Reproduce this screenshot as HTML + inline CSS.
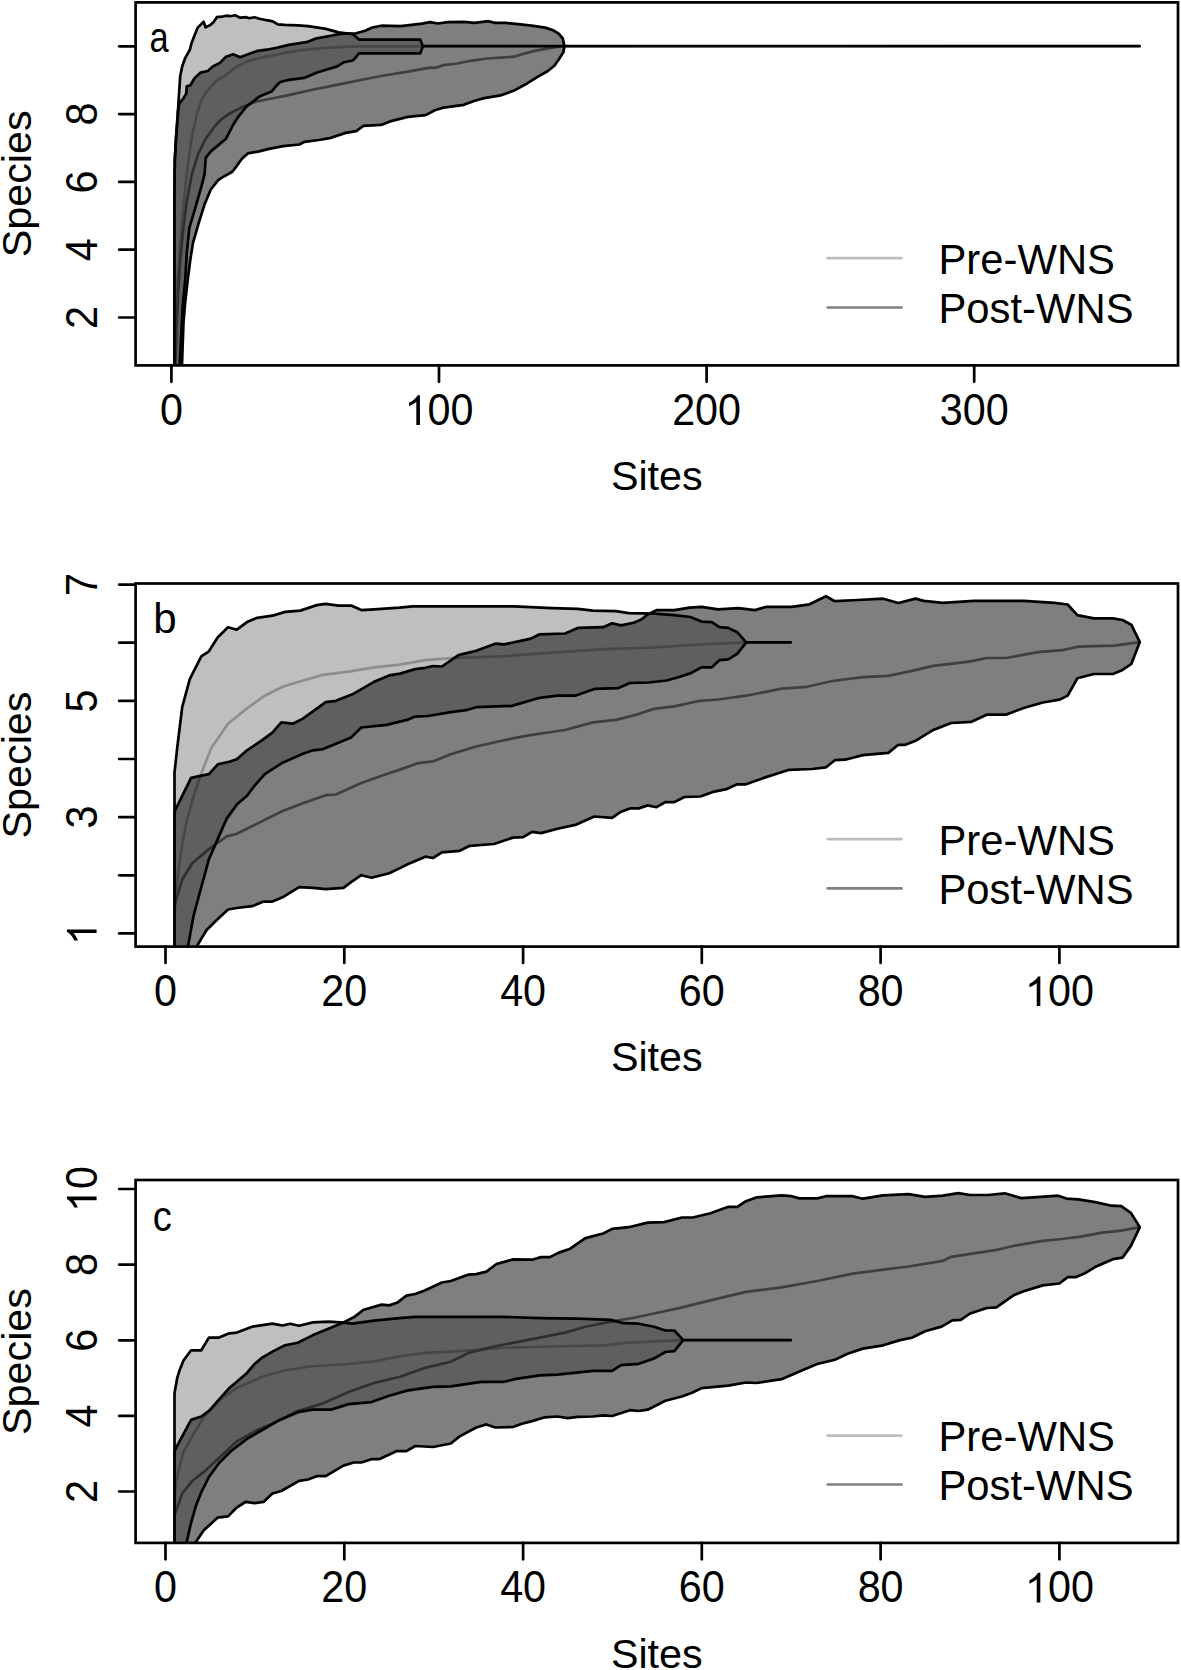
<!DOCTYPE html>
<html><head><meta charset="utf-8"><title>Species accumulation</title>
<style>
html,body{margin:0;padding:0;background:#fff;}
svg{display:block;}
text{font-family:"Liberation Sans",sans-serif;fill:#000;}
</style></head><body>
<svg width="1181" height="1670" viewBox="0 0 1181 1670">
<rect x="0" y="0" width="1181" height="1670" fill="#fff"/>

<clipPath id="clipa"><rect x="135.6" y="2.4" width="1042.4" height="363.0"/></clipPath>
<g clip-path="url(#clipa)" stroke-linejoin="round" stroke-linecap="round">
<polyline points="174.6,370.0 175.5,330.0 177.0,290.0 179.0,259.9 182.9,212.4 186.7,174.3 191.8,136.2 194.5,125.0 197.5,111.7 201.6,99.5 206.7,91.4 215.8,81.2 226.0,75.1 236.1,67.0 246.3,61.9 256.4,58.9 266.6,56.3 276.8,54.8 285.0,52.8 301.1,50.2 327.8,47.6 358.0,46.3 1139.7,46.2" fill="none" stroke="#bebebe" stroke-width="2.7"/>
<polyline points="175.2,370.0 176.5,330.0 178.0,295.0 180.3,259.9 182.9,232.7 186.7,202.2 191.8,174.3 198.1,154.0 205.7,138.7 215.8,125.0 221.9,118.8 231.0,112.7 241.2,107.6 256.4,101.5 266.6,99.5 276.8,97.5 285.0,95.9 310.0,90.2 336.7,84.9 354.5,81.3 381.1,76.0 407.8,71.6 430.0,67.6 435.4,67.9 443.5,65.1 457.1,63.5 470.6,60.8 486.9,58.5 500.5,57.7 514.0,56.7 524.8,53.4 535.7,50.6 546.5,48.6 557.4,46.9 564.4,46.2" fill="none" stroke="#7f7f7f" stroke-width="2.7"/>
<polygon points="174.4,370.0 174.4,200.0 174.8,160.0 176.2,135.0 177.8,118.0 178.2,106.6 179.2,91.4 180.2,76.1 182.3,66.0 185.3,57.8 189.9,49.7 191.4,43.6 194.5,35.5 197.5,27.9 203.6,21.8 205.6,27.4 210.7,24.8 213.8,21.8 216.8,17.2 221.9,16.7 226.0,15.7 230.0,16.2 235.1,15.2 240.2,17.7 246.3,17.2 249.3,18.2 254.4,17.2 259.5,18.7 266.6,20.2 272.7,21.3 277.8,24.3 285.0,24.8 297.8,25.4 308.2,26.2 326.0,28.9 338.5,32.4 352.7,34.2 354.5,35.6 358.9,39.6 420.3,39.6 422.8,46.2 1139.7,46.2 422.8,46.2 420.3,53.4 358.9,53.4 354.5,58.8 352.7,60.5 343.8,62.3 336.7,66.6 326.0,69.8 317.1,72.5 304.7,77.8 290.5,79.6 285.0,80.7 279.8,82.2 276.8,85.3 271.7,91.4 266.6,93.4 259.5,96.4 254.4,100.5 246.3,106.6 238.2,116.8 233.1,125.0 228.6,133.7 226.0,138.7 210.8,151.4 205.7,157.8 204.6,174.0 201.3,186.9 194.5,210.6 189.4,227.6 186.9,251.3 185.2,280.1 182.7,305.5 181.0,339.3 179.3,370.0" fill="rgba(0,0,0,0.25)" stroke="#000" stroke-width="2.7"/>
<polygon points="174.4,370.0 174.4,200.0 174.8,160.0 176.2,135.0 177.8,112.0 179.2,103.6 183.3,98.5 186.3,93.4 186.8,86.3 190.4,85.3 194.5,78.2 200.6,72.6 207.7,71.0 212.8,66.5 219.9,62.9 226.0,56.8 233.1,54.3 240.2,57.3 249.3,53.8 256.4,51.2 266.6,49.7 276.8,47.7 288.7,44.9 306.5,42.2 315.3,38.7 329.6,36.0 340.2,33.9 356.2,33.3 365.1,30.7 372.2,27.5 381.1,25.7 400.7,26.2 422.0,23.6 430.0,22.2 438.1,23.5 447.6,22.2 463.9,21.9 474.7,22.9 488.3,21.2 495.0,22.9 505.9,22.9 518.1,24.2 531.6,25.6 545.2,27.6 553.3,30.3 558.7,33.7 562.8,38.5 564.4,46.2 563.5,52.0 560.1,57.4 554.6,65.5 547.9,71.0 538.4,76.4 527.5,83.2 514.0,90.6 500.5,95.4 484.2,98.1 474.7,100.8 463.9,104.8 443.5,107.6 435.4,110.0 425.6,115.1 407.8,116.9 390.0,121.4 381.1,124.9 363.4,125.8 356.2,131.1 345.6,132.9 329.6,138.2 318.9,140.0 304.7,141.8 299.3,144.5 283.3,146.2 269.1,148.9 259.1,151.4 247.8,153.4 241.9,158.8 236.2,166.7 232.4,171.8 221.0,178.1 218.2,180.2 210.8,189.5 204.4,204.8 198.1,225.1 193.0,242.9 190.3,259.8 187.7,280.1 185.2,302.1 183.5,322.4 181.8,370.0" fill="rgba(0,0,0,0.5)" stroke="#000" stroke-width="2.7"/>
</g>
<rect x="135.6" y="2.4" width="1042.4" height="363.0" fill="none" stroke="#000" stroke-width="2.7"/>
<line x1="119.19999999999999" y1="46.3" x2="135.6" y2="46.3" stroke="#000" stroke-width="2.7" stroke-linecap="round"/>
<line x1="119.19999999999999" y1="114.1" x2="135.6" y2="114.1" stroke="#000" stroke-width="2.7" stroke-linecap="round"/>
<g transform="translate(96.6,114.1) rotate(-90)"><text transform="translate(-11.48,0) scale(1,1.06)" font-size="41.3">8</text></g>
<line x1="119.19999999999999" y1="181.9" x2="135.6" y2="181.9" stroke="#000" stroke-width="2.7" stroke-linecap="round"/>
<g transform="translate(96.6,181.9) rotate(-90)"><text transform="translate(-11.48,0) scale(1,1.06)" font-size="41.3">6</text></g>
<line x1="119.19999999999999" y1="249.7" x2="135.6" y2="249.7" stroke="#000" stroke-width="2.7" stroke-linecap="round"/>
<g transform="translate(96.6,249.7) rotate(-90)"><text transform="translate(-11.48,0) scale(1,1.06)" font-size="41.3">4</text></g>
<line x1="119.19999999999999" y1="317.5" x2="135.6" y2="317.5" stroke="#000" stroke-width="2.7" stroke-linecap="round"/>
<g transform="translate(96.6,317.5) rotate(-90)"><text transform="translate(-11.48,0) scale(1,1.06)" font-size="41.3">2</text></g>
<line x1="171.4" y1="365.4" x2="171.4" y2="381.79999999999995" stroke="#000" stroke-width="2.7" stroke-linecap="round"/>
<g transform="translate(171.4,424.9)"><text transform="translate(-11.48,0) scale(1,1.06)" font-size="41.3">0</text></g>
<line x1="439.0" y1="365.4" x2="439.0" y2="381.79999999999995" stroke="#000" stroke-width="2.7" stroke-linecap="round"/>
<g transform="translate(439.0,424.9)"><path d="M763 0H583V1147Q518 1085 412.5 1023T223 930V1104Q374 1175 487 1276T647 1472H763Z" transform="translate(-34.45,0) scale(0.02017,-0.02017)" fill="#000"/><text transform="translate(-11.48,0) scale(1,1.06)" font-size="41.3">0</text><text transform="translate(11.48,0) scale(1,1.06)" font-size="41.3">0</text></g>
<line x1="706.6" y1="365.4" x2="706.6" y2="381.79999999999995" stroke="#000" stroke-width="2.7" stroke-linecap="round"/>
<g transform="translate(706.6,424.9)"><text transform="translate(-34.45,0) scale(1,1.06)" font-size="41.3">2</text><text transform="translate(-11.48,0) scale(1,1.06)" font-size="41.3">0</text><text transform="translate(11.48,0) scale(1,1.06)" font-size="41.3">0</text></g>
<line x1="974.2" y1="365.4" x2="974.2" y2="381.79999999999995" stroke="#000" stroke-width="2.7" stroke-linecap="round"/>
<g transform="translate(974.2,424.9)"><text transform="translate(-34.45,0) scale(1,1.06)" font-size="41.3">3</text><text transform="translate(-11.48,0) scale(1,1.06)" font-size="41.3">0</text><text transform="translate(11.48,0) scale(1,1.06)" font-size="41.3">0</text></g>
<text transform="translate(31.0,183.9) rotate(-90)" text-anchor="middle" font-size="41.3">Species</text>
<text x="656.8" y="490.2" text-anchor="middle" font-size="41.3">Sites</text>
<text transform="translate(149.4,52.4) scale(0.82,1)" font-size="42">a</text>
<line x1="827.7" y1="258.2" x2="901.5" y2="258.2" stroke="#bebebe" stroke-width="2.7" stroke-linecap="round"/>
<line x1="827.7" y1="307.5" x2="901.5" y2="307.5" stroke="#7f7f7f" stroke-width="2.7" stroke-linecap="round"/>
<text transform="translate(938.5,273.6) scale(1.012,1.05)" font-size="41.3">Pre-WNS</text>
<text transform="translate(938.5,322.9) scale(1.012,1.05)" font-size="41.3">Post-WNS</text>
<clipPath id="clipb"><rect x="135.6" y="583.5" width="1042.4" height="363.1"/></clipPath>
<g clip-path="url(#clipb)" stroke-linejoin="round" stroke-linecap="round">
<polyline points="174.6,915.1 177.2,882.1 181.0,851.6 186.0,823.7 193.7,795.7 202.6,769.9 211.4,747.8 228.0,723.7 247.0,708.4 264.8,695.7 282.6,686.8 302.9,680.5 323.2,674.9 348.6,671.6 374.0,667.3 399.4,664.7 425.4,660.2 450.8,658.1 501.6,656.4 552.4,652.6 603.2,649.2 654.0,647.5 700.0,644.4 746.2,642.3 790.8,642.3" fill="none" stroke="#bebebe" stroke-width="2.7"/>
<polyline points="174.6,904.9 182.2,879.5 192.4,863.0 208.9,849.1 226.7,836.4 236.8,833.8 262.2,821.1 282.6,811.0 302.9,803.3 325.7,795.2 335.9,794.5 361.3,783.0 386.7,774.1 400.0,769.6 417.8,763.2 433.0,761.4 450.8,754.2 476.2,746.5 501.6,740.7 527.0,735.6 565.1,730.0 593.0,722.4 615.9,719.9 636.2,714.8 654.0,708.9 674.3,706.4 700.0,700.8 718.1,699.5 746.0,695.7 781.6,688.6 807.0,686.8 832.4,681.0 862.9,677.2 888.3,675.9 908.6,671.6 933.3,665.9 969.0,661.6 986.8,658.0 1005.9,658.0 1038.0,652.1 1061.8,650.2 1078.4,646.6 1114.1,645.7 1139.8,642.1" fill="none" stroke="#7f7f7f" stroke-width="2.7"/>
<polygon points="174.5,950.0 174.5,772.0 174.8,769.9 177.2,747.8 182.2,707.2 189.8,679.2 201.3,656.4 208.9,651.3 217.8,637.3 228.0,627.2 236.8,629.7 247.0,622.1 257.2,617.8 272.4,615.7 285.1,611.9 300.3,610.6 316.8,605.1 325.7,603.8 338.4,605.6 351.1,605.6 361.3,610.1 374.0,609.4 399.4,607.6 412.7,606.3 450.8,606.3 514.3,606.3 552.4,608.1 577.8,608.9 593.0,610.6 615.9,611.1 628.6,613.2 654.0,613.7 674.3,615.2 690.2,617.0 701.6,621.6 711.8,622.1 719.4,627.2 728.3,627.9 737.2,632.2 746.2,642.3 790.8,642.3 746.2,642.3 737.2,653.8 728.3,659.4 719.4,660.2 711.8,667.3 701.6,667.3 691.4,672.9 680.0,676.7 666.7,680.5 648.9,682.5 629.9,683.0 618.4,688.1 594.3,688.9 575.3,695.7 557.5,695.7 539.7,697.8 511.8,705.9 476.2,707.2 466.0,710.2 450.8,712.2 427.9,716.0 415.2,716.6 407.0,719.9 386.7,724.9 361.3,727.5 351.1,737.6 338.4,742.7 323.2,749.1 313.0,750.3 302.9,753.8 282.6,762.7 264.8,774.1 254.6,785.6 247.0,795.7 236.8,804.6 226.7,818.6 217.8,838.9 208.9,859.2 201.3,887.2 193.7,915.1 187.3,950.0" fill="rgba(0,0,0,0.25)" stroke="#000" stroke-width="2.7"/>
<polygon points="174.5,950.0 174.5,812.0 174.8,811.0 181.0,798.3 191.1,777.9 208.9,774.1 217.8,764.3 229.2,761.8 236.8,759.2 247.0,750.3 262.2,740.2 272.4,732.6 281.3,722.4 292.7,723.7 302.9,718.6 325.7,702.1 335.9,700.8 353.7,693.7 374.0,681.8 389.2,675.4 400.0,673.6 415.2,669.1 425.4,667.8 433.0,666.0 441.9,666.5 458.4,655.1 476.2,650.8 495.3,643.7 504.1,644.4 530.8,638.6 539.7,634.3 565.1,633.5 577.8,627.9 603.2,627.2 612.1,623.3 621.0,625.4 633.7,622.8 641.3,619.5 647.7,614.5 656.5,610.1 674.3,610.1 689.6,607.6 701.6,606.8 718.1,609.4 738.4,608.1 754.9,610.1 766.4,606.8 791.8,606.8 809.5,604.3 826.0,596.2 834.9,601.2 857.8,600.0 883.2,598.7 898.4,603.0 915.5,598.6 923.8,600.9 942.8,602.8 973.8,600.9 1023.7,600.9 1054.7,602.8 1067.7,604.5 1077.3,615.2 1093.9,618.3 1112.9,618.3 1122.5,620.0 1131.3,624.7 1139.8,642.1 1131.3,664.0 1122.5,669.9 1112.9,674.0 1093.9,674.0 1077.3,678.3 1067.7,695.6 1059.4,699.7 1042.8,702.5 1023.7,708.0 1005.9,714.7 986.8,714.7 971.4,721.8 951.2,723.0 933.3,729.9 915.5,740.8 904.8,744.9 898.4,744.8 888.3,752.9 862.9,755.1 845.1,759.7 834.9,760.2 826.0,767.3 812.1,769.0 789.2,769.8 763.8,777.9 746.0,784.3 737.2,784.3 725.7,789.4 713.0,791.9 700.3,796.5 684.5,797.0 674.3,802.1 665.4,802.1 656.5,807.2 647.7,805.4 638.8,808.4 629.9,808.4 621.0,811.7 612.1,817.8 594.3,816.5 575.3,824.9 557.5,828.7 541.0,833.1 532.1,831.8 523.2,837.1 513.0,837.6 494.0,844.0 469.8,845.8 459.7,850.8 441.9,852.4 433.0,858.0 425.4,856.7 407.6,864.3 400.0,868.1 389.2,873.2 371.5,877.8 361.3,875.2 351.1,882.1 343.5,887.9 325.7,889.2 313.0,887.9 299.1,887.2 282.6,897.3 272.4,901.6 263.5,901.6 252.1,906.2 236.8,908.0 228.0,909.5 216.5,920.2 206.4,930.3 194.6,950.0" fill="rgba(0,0,0,0.5)" stroke="#000" stroke-width="2.7"/>
</g>
<rect x="135.6" y="583.5" width="1042.4" height="363.1" fill="none" stroke="#000" stroke-width="2.7"/>
<line x1="119.19999999999999" y1="584.6" x2="135.6" y2="584.6" stroke="#000" stroke-width="2.7" stroke-linecap="round"/>
<g transform="translate(96.6,584.6) rotate(-90)"><text transform="translate(-11.48,0) scale(1,1.06)" font-size="41.3">7</text></g>
<line x1="119.19999999999999" y1="642.7" x2="135.6" y2="642.7" stroke="#000" stroke-width="2.7" stroke-linecap="round"/>
<line x1="119.19999999999999" y1="700.9" x2="135.6" y2="700.9" stroke="#000" stroke-width="2.7" stroke-linecap="round"/>
<g transform="translate(96.6,700.9) rotate(-90)"><text transform="translate(-11.48,0) scale(1,1.06)" font-size="41.3">5</text></g>
<line x1="119.19999999999999" y1="759.0" x2="135.6" y2="759.0" stroke="#000" stroke-width="2.7" stroke-linecap="round"/>
<line x1="119.19999999999999" y1="817.1" x2="135.6" y2="817.1" stroke="#000" stroke-width="2.7" stroke-linecap="round"/>
<g transform="translate(96.6,817.1) rotate(-90)"><text transform="translate(-11.48,0) scale(1,1.06)" font-size="41.3">3</text></g>
<line x1="119.19999999999999" y1="875.3" x2="135.6" y2="875.3" stroke="#000" stroke-width="2.7" stroke-linecap="round"/>
<line x1="119.19999999999999" y1="933.4" x2="135.6" y2="933.4" stroke="#000" stroke-width="2.7" stroke-linecap="round"/>
<g transform="translate(96.6,933.4) rotate(-90)"><path d="M763 0H583V1147Q518 1085 412.5 1023T223 930V1104Q374 1175 487 1276T647 1472H763Z" transform="translate(-11.48,0) scale(0.02017,-0.02017)" fill="#000"/></g>
<line x1="165.5" y1="946.6" x2="165.5" y2="963.0" stroke="#000" stroke-width="2.7" stroke-linecap="round"/>
<g transform="translate(165.5,1006.1)"><text transform="translate(-11.48,0) scale(1,1.06)" font-size="41.3">0</text></g>
<line x1="344.3" y1="946.6" x2="344.3" y2="963.0" stroke="#000" stroke-width="2.7" stroke-linecap="round"/>
<g transform="translate(344.3,1006.1)"><text transform="translate(-22.97,0) scale(1,1.06)" font-size="41.3">2</text><text transform="translate(0.00,0) scale(1,1.06)" font-size="41.3">0</text></g>
<line x1="523.1" y1="946.6" x2="523.1" y2="963.0" stroke="#000" stroke-width="2.7" stroke-linecap="round"/>
<g transform="translate(523.1,1006.1)"><text transform="translate(-22.97,0) scale(1,1.06)" font-size="41.3">4</text><text transform="translate(0.00,0) scale(1,1.06)" font-size="41.3">0</text></g>
<line x1="701.8" y1="946.6" x2="701.8" y2="963.0" stroke="#000" stroke-width="2.7" stroke-linecap="round"/>
<g transform="translate(701.8,1006.1)"><text transform="translate(-22.97,0) scale(1,1.06)" font-size="41.3">6</text><text transform="translate(0.00,0) scale(1,1.06)" font-size="41.3">0</text></g>
<line x1="880.6" y1="946.6" x2="880.6" y2="963.0" stroke="#000" stroke-width="2.7" stroke-linecap="round"/>
<g transform="translate(880.6,1006.1)"><text transform="translate(-22.97,0) scale(1,1.06)" font-size="41.3">8</text><text transform="translate(0.00,0) scale(1,1.06)" font-size="41.3">0</text></g>
<line x1="1059.4" y1="946.6" x2="1059.4" y2="963.0" stroke="#000" stroke-width="2.7" stroke-linecap="round"/>
<g transform="translate(1059.4,1006.1)"><path d="M763 0H583V1147Q518 1085 412.5 1023T223 930V1104Q374 1175 487 1276T647 1472H763Z" transform="translate(-34.45,0) scale(0.02017,-0.02017)" fill="#000"/><text transform="translate(-11.48,0) scale(1,1.06)" font-size="41.3">0</text><text transform="translate(11.48,0) scale(1,1.06)" font-size="41.3">0</text></g>
<text transform="translate(31.0,765.0) rotate(-90)" text-anchor="middle" font-size="41.3">Species</text>
<text x="656.8" y="1071.4" text-anchor="middle" font-size="41.3">Sites</text>
<text transform="translate(153.2,633.2) scale(1.0,1)" font-size="42">b</text>
<line x1="827.7" y1="839.1" x2="901.5" y2="839.1" stroke="#bebebe" stroke-width="2.7" stroke-linecap="round"/>
<line x1="827.7" y1="888.3" x2="901.5" y2="888.3" stroke="#7f7f7f" stroke-width="2.7" stroke-linecap="round"/>
<text transform="translate(938.5,854.5) scale(1.012,1.05)" font-size="41.3">Pre-WNS</text>
<text transform="translate(938.5,903.7) scale(1.012,1.05)" font-size="41.3">Post-WNS</text>
<clipPath id="clipc"><rect x="135.6" y="1180.0" width="1042.4" height="362.9000000000001"/></clipPath>
<g clip-path="url(#clipc)" stroke-linejoin="round" stroke-linecap="round">
<polyline points="174.6,1500.0 175.9,1482.1 183.5,1451.6 193.7,1433.8 203.8,1417.3 221.6,1398.3 236.8,1388.1 262.2,1376.7 285.1,1370.3 310.5,1366.5 348.6,1364.0 374.0,1361.4 399.4,1356.4 425.4,1352.9 463.5,1350.8 501.6,1347.8 552.4,1346.5 603.2,1345.3 628.6,1342.7 683.2,1340.2 790.8,1340.2" fill="none" stroke="#bebebe" stroke-width="2.7"/>
<polyline points="174.6,1515.1 182.2,1493.5 192.4,1480.8 203.8,1471.9 221.6,1455.4 236.8,1441.4 254.6,1431.3 272.4,1423.7 297.8,1411.0 323.2,1403.3 348.6,1391.9 374.0,1383.0 400.0,1376.7 425.4,1367.8 450.8,1361.8 468.6,1352.9 494.0,1346.5 527.0,1340.2 565.1,1332.6 585.4,1326.7 610.8,1321.6 636.2,1317.3 654.0,1313.5 680.0,1307.9 705.4,1301.6 746.0,1291.9 781.6,1287.3 817.2,1281.0 852.7,1273.6 883.2,1269.6 908.6,1266.5 942.8,1260.9 951.2,1256.8 995.2,1250.2 1014.2,1245.7 1042.8,1240.9 1061.8,1239.0 1080.8,1236.6 1102.2,1232.6 1121.3,1230.7 1139.8,1227.1" fill="none" stroke="#7f7f7f" stroke-width="2.7"/>
<polygon points="174.5,1547.0 174.5,1393.2 177.2,1377.9 179.7,1369.9 183.5,1360.5 191.1,1350.3 201.3,1350.3 208.9,1337.6 219.1,1337.6 229.2,1333.3 236.8,1332.6 252.1,1326.7 272.4,1323.7 282.6,1325.5 290.2,1323.7 299.1,1325.7 313.0,1322.4 328.3,1321.6 341.0,1322.4 352.4,1323.7 374.0,1320.6 399.4,1318.1 415.2,1316.8 501.6,1316.8 539.7,1318.1 577.8,1318.6 610.8,1319.9 623.5,1323.2 638.8,1323.7 654.0,1326.7 665.4,1330.5 674.3,1330.5 683.2,1340.2 790.8,1340.2 683.2,1340.2 674.3,1351.1 665.4,1352.0 654.0,1358.5 638.8,1363.8 621.0,1365.2 612.1,1370.8 593.0,1370.8 557.5,1374.6 539.7,1375.4 514.3,1379.2 504.1,1381.8 481.3,1381.8 450.8,1386.3 433.0,1386.8 415.2,1389.4 407.0,1390.6 389.2,1395.7 371.5,1402.1 348.6,1404.1 330.8,1409.7 313.0,1409.7 297.8,1412.2 277.5,1421.1 262.2,1430.0 247.0,1438.9 231.8,1450.3 219.1,1463.0 208.9,1477.0 201.3,1492.2 196.2,1504.9 191.1,1522.7 185.5,1547.0" fill="rgba(0,0,0,0.25)" stroke="#000" stroke-width="2.7"/>
<polygon points="174.5,1547.0 174.5,1451.5 174.8,1450.3 182.2,1436.4 191.1,1419.9 201.3,1416.5 210.2,1409.7 217.8,1400.8 229.2,1388.1 236.8,1381.8 247.0,1372.9 254.6,1364.0 262.2,1357.6 272.4,1351.6 285.1,1345.3 297.8,1342.7 313.0,1335.1 328.3,1328.8 343.5,1322.4 353.7,1317.3 363.8,1309.7 381.6,1304.6 389.2,1305.4 396.9,1302.8 406.4,1295.7 415.2,1294.0 424.1,1290.7 441.9,1282.5 450.8,1281.0 468.6,1274.6 476.2,1274.1 486.4,1271.6 496.5,1264.0 513.0,1259.4 532.1,1259.7 541.0,1257.1 549.9,1257.1 558.8,1252.6 570.2,1248.7 585.4,1238.1 603.2,1233.5 612.1,1228.9 628.6,1227.2 647.7,1222.6 664.2,1222.1 681.9,1217.5 692.7,1217.5 710.5,1213.2 728.3,1206.8 737.2,1206.8 746.0,1201.2 756.2,1197.4 781.6,1195.4 791.8,1196.2 799.4,1198.4 817.2,1198.4 826.0,1196.2 852.7,1196.2 862.9,1198.7 883.2,1195.4 908.6,1194.1 925.0,1196.9 942.8,1195.7 958.3,1193.1 970.2,1195.0 988.0,1195.0 1004.7,1193.3 1021.3,1198.1 1040.4,1196.9 1058.2,1195.7 1066.5,1198.6 1078.4,1199.3 1095.1,1202.1 1111.8,1205.7 1121.3,1206.2 1130.8,1212.8 1139.8,1227.1 1130.8,1246.1 1122.5,1257.6 1112.9,1259.2 1095.1,1267.1 1084.4,1273.5 1076.1,1277.1 1067.7,1277.1 1059.4,1283.5 1042.8,1285.4 1023.7,1291.3 1014.2,1294.9 996.4,1307.3 986.8,1308.0 970.2,1313.5 960.7,1319.9 952.3,1320.4 941.6,1326.6 925.0,1331.3 911.9,1337.7 900.0,1340.1 883.2,1345.3 862.9,1348.6 847.6,1353.8 834.9,1359.7 817.2,1364.0 799.4,1371.6 781.6,1379.2 756.2,1383.0 746.0,1382.5 728.3,1385.6 701.6,1388.1 692.1,1392.7 681.9,1396.5 665.4,1400.8 647.7,1409.7 638.8,1411.0 629.9,1410.2 612.1,1416.0 603.2,1415.3 593.0,1416.5 577.8,1416.8 567.6,1418.1 557.5,1416.5 544.8,1417.3 532.1,1421.1 521.9,1423.7 513.0,1427.0 495.3,1427.5 486.4,1424.4 476.2,1427.5 459.7,1436.4 450.8,1443.5 433.0,1447.0 415.2,1446.0 406.4,1451.1 396.9,1451.1 379.1,1459.2 371.5,1459.2 361.3,1462.5 353.7,1462.5 343.5,1465.6 325.7,1476.2 316.8,1476.2 308.0,1479.5 299.1,1480.8 281.3,1491.0 272.4,1493.5 263.5,1501.9 254.6,1503.2 245.7,1501.9 236.8,1507.5 228.0,1516.4 217.8,1517.6 203.8,1530.3 192.4,1547.0" fill="rgba(0,0,0,0.5)" stroke="#000" stroke-width="2.7"/>
</g>
<rect x="135.6" y="1180.0" width="1042.4" height="362.9000000000001" fill="none" stroke="#000" stroke-width="2.7"/>
<line x1="119.19999999999999" y1="1189.0" x2="135.6" y2="1189.0" stroke="#000" stroke-width="2.7" stroke-linecap="round"/>
<g transform="translate(96.6,1189.0) rotate(-90)"><path d="M763 0H583V1147Q518 1085 412.5 1023T223 930V1104Q374 1175 487 1276T647 1472H763Z" transform="translate(-22.97,0) scale(0.02017,-0.02017)" fill="#000"/><text transform="translate(0.00,0) scale(1,1.06)" font-size="41.3">0</text></g>
<line x1="119.19999999999999" y1="1264.6" x2="135.6" y2="1264.6" stroke="#000" stroke-width="2.7" stroke-linecap="round"/>
<g transform="translate(96.6,1264.6) rotate(-90)"><text transform="translate(-11.48,0) scale(1,1.06)" font-size="41.3">8</text></g>
<line x1="119.19999999999999" y1="1340.3" x2="135.6" y2="1340.3" stroke="#000" stroke-width="2.7" stroke-linecap="round"/>
<g transform="translate(96.6,1340.3) rotate(-90)"><text transform="translate(-11.48,0) scale(1,1.06)" font-size="41.3">6</text></g>
<line x1="119.19999999999999" y1="1415.9" x2="135.6" y2="1415.9" stroke="#000" stroke-width="2.7" stroke-linecap="round"/>
<g transform="translate(96.6,1415.9) rotate(-90)"><text transform="translate(-11.48,0) scale(1,1.06)" font-size="41.3">4</text></g>
<line x1="119.19999999999999" y1="1491.5" x2="135.6" y2="1491.5" stroke="#000" stroke-width="2.7" stroke-linecap="round"/>
<g transform="translate(96.6,1491.5) rotate(-90)"><text transform="translate(-11.48,0) scale(1,1.06)" font-size="41.3">2</text></g>
<line x1="165.5" y1="1542.9" x2="165.5" y2="1559.3000000000002" stroke="#000" stroke-width="2.7" stroke-linecap="round"/>
<g transform="translate(165.5,1602.4)"><text transform="translate(-11.48,0) scale(1,1.06)" font-size="41.3">0</text></g>
<line x1="344.3" y1="1542.9" x2="344.3" y2="1559.3000000000002" stroke="#000" stroke-width="2.7" stroke-linecap="round"/>
<g transform="translate(344.3,1602.4)"><text transform="translate(-22.97,0) scale(1,1.06)" font-size="41.3">2</text><text transform="translate(0.00,0) scale(1,1.06)" font-size="41.3">0</text></g>
<line x1="523.1" y1="1542.9" x2="523.1" y2="1559.3000000000002" stroke="#000" stroke-width="2.7" stroke-linecap="round"/>
<g transform="translate(523.1,1602.4)"><text transform="translate(-22.97,0) scale(1,1.06)" font-size="41.3">4</text><text transform="translate(0.00,0) scale(1,1.06)" font-size="41.3">0</text></g>
<line x1="701.8" y1="1542.9" x2="701.8" y2="1559.3000000000002" stroke="#000" stroke-width="2.7" stroke-linecap="round"/>
<g transform="translate(701.8,1602.4)"><text transform="translate(-22.97,0) scale(1,1.06)" font-size="41.3">6</text><text transform="translate(0.00,0) scale(1,1.06)" font-size="41.3">0</text></g>
<line x1="880.6" y1="1542.9" x2="880.6" y2="1559.3000000000002" stroke="#000" stroke-width="2.7" stroke-linecap="round"/>
<g transform="translate(880.6,1602.4)"><text transform="translate(-22.97,0) scale(1,1.06)" font-size="41.3">8</text><text transform="translate(0.00,0) scale(1,1.06)" font-size="41.3">0</text></g>
<line x1="1059.4" y1="1542.9" x2="1059.4" y2="1559.3000000000002" stroke="#000" stroke-width="2.7" stroke-linecap="round"/>
<g transform="translate(1059.4,1602.4)"><path d="M763 0H583V1147Q518 1085 412.5 1023T223 930V1104Q374 1175 487 1276T647 1472H763Z" transform="translate(-34.45,0) scale(0.02017,-0.02017)" fill="#000"/><text transform="translate(-11.48,0) scale(1,1.06)" font-size="41.3">0</text><text transform="translate(11.48,0) scale(1,1.06)" font-size="41.3">0</text></g>
<text transform="translate(31.0,1361.5) rotate(-90)" text-anchor="middle" font-size="41.3">Species</text>
<text x="656.8" y="1667.7" text-anchor="middle" font-size="41.3">Sites</text>
<text transform="translate(152.8,1231.4) scale(0.91,1)" font-size="42">c</text>
<line x1="827.7" y1="1435.6" x2="901.5" y2="1435.6" stroke="#bebebe" stroke-width="2.7" stroke-linecap="round"/>
<line x1="827.7" y1="1484.5" x2="901.5" y2="1484.5" stroke="#7f7f7f" stroke-width="2.7" stroke-linecap="round"/>
<text transform="translate(938.5,1451.0) scale(1.012,1.05)" font-size="41.3">Pre-WNS</text>
<text transform="translate(938.5,1499.9) scale(1.012,1.05)" font-size="41.3">Post-WNS</text>
</svg></body></html>
